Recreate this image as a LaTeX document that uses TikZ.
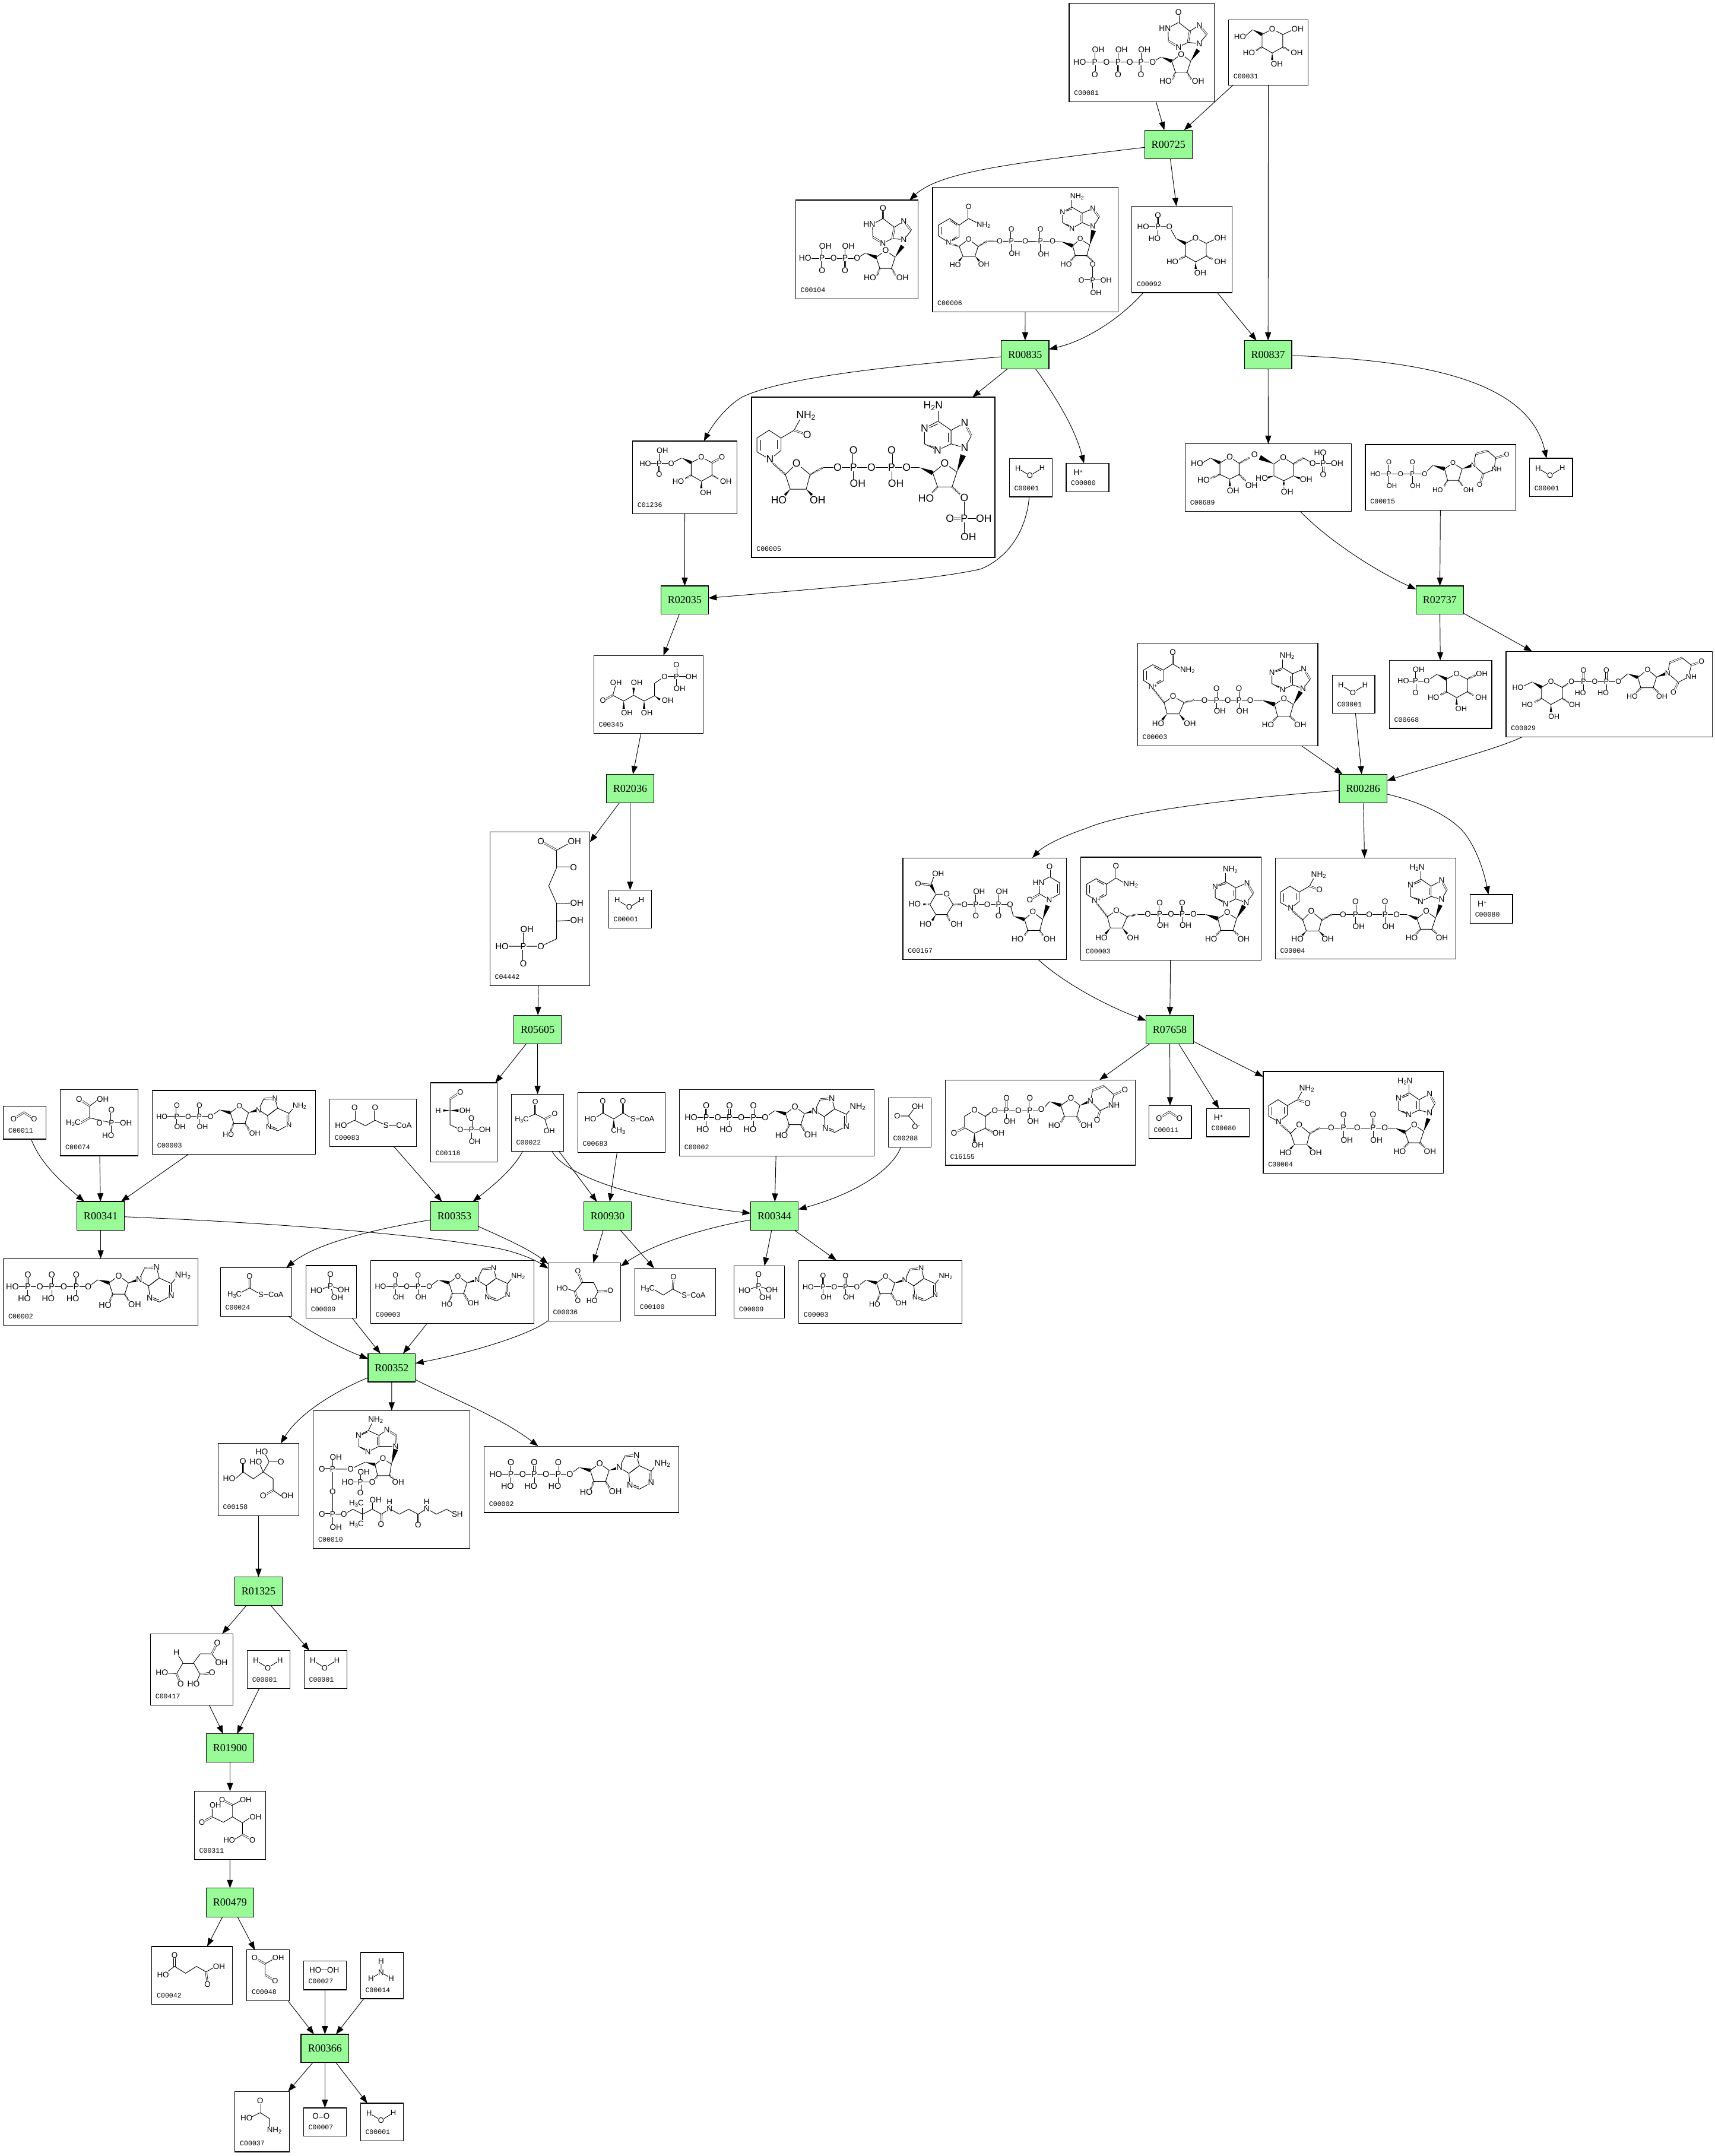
\documentclass[tikz,border=0pt]{standalone}
\usepackage{fontspec}
\setmainfont{Liberation Sans}
\newfontfamily\labf{Liberation Mono}
\newfontfamily\rxf{Liberation Serif}
\usetikzlibrary{calc,arrows.meta}
\definecolor{rxgreen}{HTML}{98FB98}
\newcounter{atc}
\newif\ifbondmode
\tikzset{
 atm/.style={fill=white,inner sep=.1pt,font=\atf},
 bnd/.style={line width=.4pt,line join=round},
 dbl/.style={line width=.3pt,double,double distance=.75pt},
 hsh/.style={line width=1.3pt,dash pattern=on .35pt off .55pt},
 cb/.style={draw=black,fill=white,line width=.55pt,inner sep=0pt,outer sep=0pt},
 rx/.style={draw=black,fill=rxgreen,line width=.55pt,inner sep=0pt,outer sep=0pt,font=\rxf\fontsize{7.8}{8}\selectfont},
 lab/.style={anchor=west,inner sep=0pt,font=\labf\fontsize{5}{5}\selectfont},
 lnk/.style={line width=.4pt,-{Triangle[length=6pt,width=4.4pt]}}
}
\newcommand\subs[1]{\raisebox{-.3ex}{\scalebox{.7}{#1}}}
\newcommand\sups[1]{\raisebox{.45ex}{\scalebox{.65}{#1}}}
\newcommand\mol[6]{\begin{scope}[shift={(#1,#2)},x=#3pt,y=-#4pt]\def\atf{\fontsize{#5}{#5}\selectfont}\pgfmathsetmacro\xs{.39*#5}\bondmodetrue #6\bondmodefalse #6\end{scope}}
\def\B#1{\ifbondmode\draw[bnd] #1;\fi}
\def\D#1{\ifbondmode\draw[dbl] #1;\fi}
\def\W(#1,#2)(#3,#4){\ifbondmode\fill (#1,#2) -- ($(#3,#4)!0.16!90:(#1,#2)$) -- ($(#3,#4)!0.16!-90:(#1,#2)$) -- cycle;\fi}
\def\Hs(#1,#2)(#3,#4){\ifbondmode\draw[hsh] (#1,#2) -- (#3,#4);\fi}
\def\At(#1,#2)#3{\ifbondmode\else\stepcounter{atc}\node[atm] (atom\arabic{atc}) at (#1,#2) {#3};\fi}
\def\AL(#1,#2)#3{\ifbondmode\else\stepcounter{atc}\node[atm,anchor=west,xshift=-\xs pt] (atom\arabic{atc}) at (#1,#2) {#3};\fi}
\def\AR(#1,#2)#3{\ifbondmode\else\stepcounter{atc}\node[atm,anchor=east,xshift=\xs pt] (atom\arabic{atc}) at (#1,#2) {#3};\fi}
\def\PO(#1,#2,#3){\D{(#1,#2)--(#1,#3)}\At(#1,#2){P}\At(#1,#3){O}}
\def\PP(#1,#2,#3,#4)#5#6{\PO(#1,#2,#3)\B{(#1,#2)--(#1,#4)}#5(#1,#4){#6}}
\newcommand\Cb[6]{\pgfmathsetmacro\bxw{#4-#2}\pgfmathsetmacro\bxh{#5-#3}%
 \node[cb,minimum width=\bxw pt,minimum height=\bxh pt] (#1) at ({(#2+#4)/2},{(#3+#5)/2}) {};%
 \node[lab] (#1-l) at ({#2+3.4},{#5-6.3}) {#6};}
\newcommand\Rx[5]{\pgfmathsetmacro\bxw{#4-#2}\pgfmathsetmacro\bxh{#5-#3}%
 \node[rx,minimum width=\bxw pt,minimum height=\bxh pt] (#1) at ({(#2+#4)/2},{(#3+#5)/2}) {#1};}
% ---------- templates
\def\RibRing{\B{(0,0) -- (-.81,.59) -- (-.5,1.54) -- (.5,1.54) -- (.81,.59) -- cycle}\At(0,0){O}}
\def\AdeR{\W(.81,.59)(1.7,.34)\B{(1.7,.34)--(2.16,-.63)}\D{(2.16,-.63)--(3.16,-.71)}\B{(3.16,-.71)--(3.39,.19)--(2.5,.85)--(1.7,.34)}\B{(3.39,.19)--(4.4,.65)--(4.95,0)}\B{(2.5,.85)--(2.6,1.86)--(3.4,2.2)--(4.4,1.66)--(4.4,.65)}\B{(3.2,.32)--(2.65,.75)}\B{(4.25,.8)--(4.25,1.5)}\B{(2.85,1.82)--(3.35,2.02)}%
 \At(1.7,.34){N}\At(3.16,-.71){N}\At(2.6,1.86){N}\At(4.4,1.66){N}\AL(4.95,0){NH\subs{2}}}
\def\NTail{\RibRing\W(-1.75,.34)(-.81,.59)\Hs(-.5,1.54)(-.8,2.25)\Hs(.5,1.54)(.9,2.2)\At(-2.55,.93){O}\B{(-1.75,.34)--(-2.55,.93)}}
\def\ATP{\NTail\AdeR\AR(-.85,2.46){HO}\AL(1.05,2.4){OH}\B{(-2.55,.93)--(-8.5,.93)}%
 \PP(-3.55,.93,-.07,1.93)\AR{HO}\At(-4.6,.93){O}\PP(-5.6,.93,-.07,1.93)\AR{HO}\At(-6.6,.93){O}\PP(-7.6,.93,-.07,1.93)\AR{HO}\AR(-8.6,.93){HO}}
\def\ADP{\NTail\AdeR\AR(-.7,2.5){HO}\AL(1.1,2.4){OH}\B{(-2.55,.93)--(-6.5,.93)}%
 \PP(-3.55,.93,-.07,1.86)\AL{OH}\At(-4.55,.93){O}\PP(-5.55,.93,-.07,1.86)\AL{OH}\AR(-6.6,.93){HO}}
\def\Hypo{\RibRing\W(-1.74,.23)(-.81,.59)\B{(-1.74,.23)--(-2.45,.68)}\Hs(-.5,1.54)(-.75,2.15)\Hs(.5,1.54)(.85,2.15)\AR(-1.05,2.32){HO}\AL(1.15,2.32){OH}\At(-2.45,.68){O}%
 \W(.81,.59)(1.45,-.38)\B{(1.55,-.91)--(2.19,-1.7)}\D{(2.19,-1.7)--(1.55,-2.5)}\B{(1.55,-2.5)--(.74,-1.98)--(-.23,-2.73)--(-1.13,-2.23)--(-1.1,-1.14)}\D{(-1.1,-1.14)--(-.23,-.61)}\B{(-.23,-.61)--(.58,-1.02)--(1.55,-.91)}\D{(.74,-1.98)--(.58,-1.02)}\D{(-.23,-2.73)--(-.23,-3.6)}%
 \At(1.55,-.91){N}\At(1.55,-2.5){N}\At(-.23,-.61){N}\AR(-1.13,-2.23){HN}\At(-.23,-3.6){O}}
\def\Glu{\B{(0,0)--(7.7,3.9)--(7.7,13.1)--(0,17.4)--(-7.4,13.1)--(-7.4,3.9)--cycle}\At(0,0){O}\W(-14.3,.4)(-7.4,3.9)\Hs(7.7,13.1)(12.5,15.6)\AL(15.5,17.4){OH}\W(0,17.4)(0,22.5)\AL(1,25.6){OH}\Hs(-7.4,13.1)(-12,15.6)\AR(-14.5,17.4){HO}}
\def\Water{\B{(6.3,7.2)--(15,12.6)--(23.9,7)}\At(6.3,7.2){H}\At(15,12.6){O}\At(23.9,7){H}}
\def\Proton{\At(8.8,6.6){H\sups{+}}}
\def\COtwo{\D{(7.4,9.4)--(14.9,4.6)}\D{(14.9,4.6)--(22.3,9.4)}\At(7.4,9.4){O}\At(22.3,9.4){O}}
\def\Phosphate{\D{(903,1040)--(903,980)}\B{(860,1062)--(903,1040)--(945,1060)}\B{(903,1040)--(915,1095)}\At(903,1040){P}\At(903,980){O}\AR(866,1062){HO}\AL(938,1060){OH}\AL(915,1098){OH}}
\def\NADc{%
 \Hs(67,265)(97,322)\B{(121,297)--(97,322)--(105,368)--(137,368)--(150,322)--cycle}\At(121,297){O}%
 \W(105,368)(92,392)\W(137,368)(150,392)\AR(90,408){HO}\AL(157,408){OH}%
 \Hs(150,322)(178,312)\B{(178,312)--(358,312)}\At(205,312){O}\PP(237,312,265,357)\AL{OH}\At(267,312){O}\PP(297,312,265,357)\AL{OH}\At(327,312){O}%
 \W(358,312)(392,330)\B{(417,305)--(392,330)--(400,378)--(433,378)--(442,330)--cycle}\At(417,305){O}\W(442,330)(462,278)%
 \Hs(400,378)(388,397)\Hs(433,378)(447,397)\AR(383,413){HO}\AL(452,413){OH}%
 \B{(468,265)--(487,228)}\D{(487,228)--(470,185)}\B{(470,185)--(440,205)--(440,250)--(468,265)}\B{(440,250)--(413,270)--(385,245)--(385,200)--(413,180)--(440,205)}\B{(413,180)--(413,145)}\B{(434,215)--(434,240)}\B{(395,197)--(413,188)}\B{(395,252)--(411,262)}%
 \At(468,265){N}\At(470,185){N}\At(413,270){N}\At(385,200){N}\AL(413,132){NH\subs{2}}%
 \B{(67,257)--(42,232)--(42,190)--(67,168)--(95,190)--(95,233)--cycle}\B{(50,228)--(50,194)}\B{(70,177)--(88,192)}\B{(76,243)--(88,231)}\B{(95,190)--(120,165)--(147,190)}\D{(120,165)--(120,117)}%
 \At(67,257){N\sups{+}}\At(120,117){O}\AL(147,190){NH\subs{2}}}
\def\NADHr{\Hs(812,1243)(825,1262)\AL(830,1278){OH}}
\def\NADHc{%
 \B{(435,1158)--(458,1130)--(458,1092)--(433,1068)--(408,1092)--(408,1135)--cycle}\B{(450,1125)--(450,1097)}\B{(416,1097)--(416,1131)}\B{(458,1092)--(485,1068)--(497,1035)}\D{(485,1068)--(512,1082)}%
 \At(435,1158){N}\At(512,1082){O}\AL(497,1022){NH\subs{2}}\Hs(441,1170)(467,1205)%
 \B{(490,1170)--(467,1205)--(477,1250)--(510,1250)--(518,1205)--cycle}\At(490,1170){O}\W(477,1250)(466,1268)\W(510,1250)(522,1268)\AR(462,1283){HO}\AL(525,1283){OH}%
 \Hs(518,1205)(545,1183)\B{(545,1183)--(745,1183)}\At(575,1183){O}\PP(608,1183,1130,1233)\AL{OH}\At(645,1183){O}\PP(687,1183,1130,1233)\AL{OH}\At(718,1183){O}%
 \W(745,1183)(772,1200)\B{(797,1170)--(772,1200)--(782,1243)--(812,1243)--(822,1197)--cycle}\At(797,1170){O}\W(822,1197)(835,1145)\Hs(782,1243)(770,1262)\AR(767,1278){HO}\NADHr%
 \B{(838,1122)--(852,1085)}\D{(852,1085)--(838,1045)}\B{(838,1045)--(810,1068)--(810,1110)--(838,1122)}\B{(810,1110)--(782,1130)--(755,1110)--(755,1062)--(783,1040)--(810,1068)}\B{(783,1040)--(783,1005)}\B{(804,1075)--(804,1105)}\B{(765,1060)--(783,1048)}\B{(765,1115)--(780,1123)}%
 \At(838,1122){N}\At(838,1045){N}\At(782,1130){N}\At(755,1062){N}\AR(785,993){H\subs{2}N}}
\begin{document}
\begin{tikzpicture}[x=1pt,y=-1pt]
\useasboundingbox (0,0) rectangle (1248,1569);
\fill[white] (0,0) rectangle (1248,1569);
% ---------- reactions
\Rx{R00725}{833}{94.7}{867.6}{115.5}
\Rx{R00835}{728.7}{247.8}{763.3}{268.4}
\Rx{R00837}{905.6}{247.8}{940}{268.4}
\Rx{R02035}{481}{426.4}{515.5}{447}
\Rx{R02737}{1030.5}{426.4}{1065}{447}
\Rx{R02036}{441.2}{563.4}{475.9}{584.3}
\Rx{R00286}{974.6}{563.5}{1009.3}{584.3}
\Rx{R05605}{374}{738.8}{408.5}{759.5}
\Rx{R07658}{834}{738.8}{868.5}{759.5}
\Rx{R00341}{56}{874.4}{90.5}{895.2}
\Rx{R00353}{313.4}{874.4}{348}{895.2}
\Rx{R00930}{424.9}{874.5}{459.4}{895.2}
\Rx{R00344}{546.3}{874.5}{580.9}{895.2}
\Rx{R00352}{267.8}{985}{302.3}{1005.7}
\Rx{R01325}{170.8}{1147.6}{205.5}{1168.4}
\Rx{R01900}{150}{1261.7}{184.8}{1282.3}
\Rx{R00479}{150}{1374}{184.7}{1395}
\Rx{R00366}{219}{1480.4}{253.9}{1501}
% ---------- compound boxes
\Cb{C00081}{778}{2.3}{883.6}{74}{C00081}
\Cb{C00031}{894}{14.5}{952}{62}{C00031}
\Cb{C00104}{579}{145.6}{668}{217.5}{C00104}
\Cb{C00006}{678.6}{136.3}{813.6}{227}{C00006}
\Cb{C00092}{823.7}{150}{896.5}{213}{C00092}
\Cb{C01236}{460.3}{321}{536.4}{373.8}{C01236}
\Cb{C00005}{546.9}{289}{724}{405.6}{C00005}
\Cb{C00001a}{734.5}{333.6}{765.8}{361.6}{C00001}
\Cb{C00080a}{775.8}{337.2}{807}{358}{C00080}
\Cb{C00689}{862.5}{323}{983.4}{372}{C00689}
\Cb{C00015}{993.6}{323.5}{1103}{371.2}{C00015}
\Cb{C00001c}{1113}{333.5}{1144.3}{361.5}{C00001}
\Cb{C00345}{432.1}{477}{511.8}{533.6}{C00345}
\Cb{C00003a}{827.8}{468}{959}{542.8}{C00003}
\Cb{C00001b}{969.5}{491.4}{1000.5}{519}{C00001}
\Cb{C00668}{1011}{480.6}{1085.6}{530}{C00668}
\Cb{C00029}{1096}{474}{1246}{536.3}{C00029}
\Cb{C04442}{356.5}{605.4}{429.3}{717.3}{C04442}
\Cb{C00001d}{442.9}{647.7}{474.2}{675.4}{C00001}
\Cb{C00167}{657.1}{624.3}{776}{698.2}{C00167}
\Cb{C00003b}{786.5}{623.8}{917.7}{698.7}{C00003}
\Cb{C00004a}{928}{624.3}{1059.4}{698}{C00004}
\Cb{C00080b}{1069.8}{651}{1100.7}{672}{C00080}
\Cb{C16155}{687.8}{785.9}{826.2}{848}{C16155}
\Cb{C00011a}{836}{804.5}{867}{828.5}{C00011}
\Cb{C00080c}{877.9}{806.6}{909.1}{827.3}{C00080}
\Cb{C00004b}{919.3}{779.7}{1050.5}{853.7}{C00004}
\Cb{C00011b}{2.5}{804.9}{33.5}{829}{C00011}
\Cb{C00074}{44}{792.8}{100.4}{841.1}{C00074}
\Cb{C00003c}{110.8}{793.6}{229.6}{840}{C00003}
\Cb{C00083}{240}{799.7}{303}{834.4}{C00083}
\Cb{C00118}{313.4}{788}{361.8}{845.5}{C00118}
\Cb{C00022}{372.1}{796.3}{410.2}{837.8}{C00022}
\Cb{C00683}{420.5}{795}{484.1}{838.8}{C00683}
\Cb{C00002c}{494.4}{792.8}{636.2}{841.2}{C00002}
\Cb{C00288}{646.4}{798.9}{677.6}{834.9}{C00288}
\Cb{C00002a}{2.5}{915.9}{144}{964.3}{C00002}
\Cb{C00024}{160.4}{922.4}{212.3}{957.8}{C00024}
\Cb{C00009a}{222.7}{921}{259.4}{959.1}{C00009}
\Cb{C00003d}{269.8}{917.2}{388.6}{963}{C00003}
\Cb{C00036}{398.9}{919}{451.7}{961.3}{C00036}
\Cb{C00100}{462}{922.9}{520.8}{957.6}{C00100}
\Cb{C00009b}{534.2}{921.1}{570.8}{959.1}{C00009}
\Cb{C00003e}{581.3}{917.2}{700.1}{963}{C00003}
\Cb{C00158}{158.7}{1050.4}{217.6}{1103.1}{C00158}
\Cb{C00010}{228}{1026.5}{342}{1126.7}{C00010}
\Cb{C00002b}{352.3}{1052.4}{494}{1100.7}{C00002}
\Cb{C00417}{109.5}{1189}{169.7}{1240.8}{C00417}
\Cb{C00001e}{179.9}{1201.1}{211.1}{1228.7}{C00001}
\Cb{C00001f}{221.3}{1201.1}{252.6}{1228.7}{C00001}
\Cb{C00311}{141.4}{1303.5}{193.4}{1353.3}{C00311}
\Cb{C00042}{110.5}{1416.5}{169.2}{1458.7}{C00042}
\Cb{C00048}{179.6}{1419}{210.7}{1456}{C00048}
\Cb{C00027}{220.9}{1427}{252}{1448}{C00027}
\Cb{C00014}{262.3}{1420.8}{293.6}{1454.5}{C00014}
\Cb{C00037}{171}{1522}{210.7}{1566}{C00037}
\Cb{C00007}{220.9}{1534}{252}{1554.6}{C00007}
\Cb{C00001g}{262.3}{1530.5}{293.6}{1558}{C00001}
% ---------- molecules
\mol{859.6}{39.5}{8.5}{8.5}{6}{\Hypo\B{(-2.45,.68)--(-8.4,.68)}\PP(-3.45,.68,1.72,-.37)\AL{OH}\At(-4.4,.68){O}\PP(-5.4,.68,1.72,-.37)\AL{OH}\At(-6.4,.68){O}\PP(-7.4,.68,1.72,-.37)\AL{OH}\AR(-8.4,.68){HO}}
\mol{644.5}{182.2}{8.5}{8.5}{6}{\Hypo\B{(-2.45,.68)--(-6.6,.68)}\PP(-3.48,.68,1.72,-.37)\AL{OH}\At(-4.45,.68){O}\PP(-5.45,.68,1.72,-.37)\AL{OH}\AR(-6.6,.68){HO}}
\mol{925.8}{21.2}{1}{1}{5.8}{\Glu\B{(7.7,3.9)--(14,1)}\AL(16,0){OH}\B{(-14.3,.4)--(-19,4.5)}\AR(-21,5.4){HO}}
\mol{870.1}{173.2}{1}{1}{5.8}{\Glu\B{(7.7,3.9)--(14,1)}\AL(15.5,0){OH}\B{(-14.3,.4)--(-19.2,-8.3)--(-35.8,-8.3)}\At(-19.2,-8.3){O}\PP(-27.5,-8.3,-16.6,.3)\AR{HO}\AR(-35.8,-8.3){HO}}
\mol{1060}{490.3}{1}{1}{5.6}{\Glu\Hs(7.7,3.9)(14,1)\AL(16,0){OH}\B{(-14.3,.4)--(-21.8,5.4)--(-36,5.4)}\At(-21.8,5.4){O}\PP(-30,5.4,13.8,-3.2)\AL{OH}\AR(-36.5,5.4){HO}}
\mol{510.4}{332.8}{1}{1}{5.6}{\Glu\D{(7.7,3.9)--(15,0)}\At(15,0){O}\B{(-14.2,.4)--(-22,4.4)--(-39,4.4)}\At(-22,4.4){O}\PP(-30.7,4.4,12.3,-4.7)\AL{OH}\AR(-38.5,4.4){HO}}
% NADP+ C00006
\mol{561.6}{0}{.2755}{.1928}{5.4}{%
 \B{(467,915)--(440,890)--(440,850)--(470,825)--(495,850)--(495,895)--cycle}\B{(447,885)--(447,855)}\B{(472,833)--(489,850)}\B{(477,905)--(488,893)}\B{(495,850)--(520,825)--(555,850)}\D{(520,825)--(520,780)}\At(467,915){N}\At(520,780){O}\AL(548,850){NH\subs{2}}%
 \Hs(475,922)(495,930)\B{(520,903)--(495,930)--(505,967)--(537,967)--(545,930)--cycle}\At(520,903){O}\W(505,967)(495,985)\W(537,967)(548,985)\AR(493,1000){HO}\AL(552,998){OH}%
 \Hs(545,930)(570,910)\B{(570,910)--(765,912)}\At(602,910){O}\PP(633,910,865,958)\AL{OH}\At(670,910){O}\PP(710,910,865,960)\AL{OH}\At(742,910){O}%
 \W(765,912)(795,928)\B{(815,902)--(795,928)--(802,965)--(832,965)--(840,925)--cycle}\At(815,902){O}\W(840,925)(850,870)\Hs(802,965)(790,983)\Hs(832,965)(848,985)\AR(786,998){HO}%
 \B{(848,998)--(848,1090)}\At(848,998){O}\D{(848,1057)--(818,1057)}\B{(848,1057)--(872,1057)}\At(848,1057){P}\At(818,1057){O}\AL(875,1057){OH}\AL(848,1105){OH}%
 \B{(848,858)--(865,820)}\D{(865,820)--(848,787)}\B{(848,787)--(820,805)--(820,840)--(848,858)}\B{(820,840)--(793,862)--(768,840)--(768,800)--(793,782)--(820,805)}\B{(793,782)--(793,752)}\B{(814,810)--(814,835)}\B{(777,797)--(793,789)}\B{(777,846)--(790,854)}%
 \At(848,855){N}\At(848,787){N}\At(793,862){N}\At(768,800){N}\AL(795,742){NH\subs{2}}}
{\def\NADHr{}\mol{407.4}{61.6}{.3515}{.2355}{7.6}{\NADHc}}
\mol{546.9}{289}{1}{1}{7.6}{\B{(154.8,73.3)--(154.8,101)}\Hs(146,65.3)(152,71)\At(154.8,73.3){O}\D{(154.8,88.3)--(144.4,88.3)}\B{(154.8,88.3)--(165,88.3)}\At(154.8,88.3){P}\At(144.4,88.3){O}\AL(166,88.3){OH}\AL(154.8,101.5){OH}}
\mol{820.7}{453.6}{.2725}{.1791}{5.8}{\NADc}
\mol{779.4}{609.4}{.2725}{.1791}{5.8}{\NADc}
\mol{820.7}{453.6}{.2725}{.1791}{5.9}{\NADHc}
\mol{812}{609}{.2725}{.1791}{5.9}{\NADHc}
% water, proton, CO2
\mol{734.5}{333.6}{1}{1}{5.6}{\Water}
\mol{969.5}{491.4}{1}{1}{5.6}{\Water}
\mol{1113}{333.5}{1}{1}{5.6}{\Water}
\mol{442.9}{647.7}{1}{1}{5.6}{\Water}
\mol{179.9}{1201.1}{1}{1}{5.6}{\Water}
\mol{221.3}{1201.1}{1}{1}{5.6}{\Water}
\mol{262.3}{1530.5}{1}{1}{5.6}{\Water}
\mol{775.8}{337.2}{1}{1}{6}{\Proton}
\mol{1069.8}{651}{1}{1}{6}{\Proton}
\mol{877.9}{806.6}{1}{1}{6}{\Proton}
\mol{836}{804.5}{1}{1}{5.6}{\COtwo}
\mol{2.5}{804.9}{1}{1}{5.6}{\COtwo}
% C00689
\mol{855.3}{315.3}{.1708}{.144}{6}{%
 \B{(232,120)--(272,152)--(272,208)--(232,232)--(190,208)--(190,150)--cycle}\W(150,125)(190,150)\B{(150,125)--(112,152)}\AR(107,152){HO}\At(232,120){O}%
 \Hs(272,152)(318,122)\At(337,107){O}\Hs(272,208)(300,242)\AL(310,262){OH}\W(232,232)(232,268)\AL(232,292){OH}\Hs(190,208)(150,228)\AR(135,237){HO}%
 \W(420,155)(360,122)\B{(460,122)--(503,155)--(503,215)--(462,240)--(420,215)--(420,155)--cycle}\At(460,122){O}\Hs(503,155)(545,125)\B{(545,125)--(585,152)--(690,152)}\At(585,152){O}\D{(630,152)--(630,210)}\B{(630,152)--(630,100)}\At(630,152){P}\At(630,210){O}\AR(632,97){HO}\AL(675,152){OH}%
 \W(420,215)(390,225)\AR(383,227){HO}\W(503,215)(530,228)\AL(543,232){OH}\Hs(462,240)(462,272)\AL(462,295){OH}}
% C00015
\mol{855.3}{315.3}{.1708}{.144}{5}{%
 \B{(1183,150)--(1147,180)--(1160,238)--(1207,238)--(1222,180)--cycle}\At(1183,150){O}\W(1097,162)(1147,180)\B{(1097,162)--(1062,205)--(865,205)}\At(1062,205){O}%
 \PP(1010,205,147,265)\AL{OH}\At(960,205){O}\PP(910,205,147,265)\AL{OH}\AR(865,205){HO}\Hs(1160,238)(1145,268)\Hs(1207,238)(1225,268)\AR(1130,288){HO}\AL(1237,288){OH}%
 \W(1222,180)(1270,160)\B{(1270,160)--(1280,105)}\D{(1280,105)--(1330,88)}\B{(1330,88)--(1365,125)--(1358,183)--(1312,205)--(1270,160)}\D{(1365,125)--(1412,107)}\D{(1312,205)--(1297,260)}%
 \At(1270,160){N}\At(1412,107){O}\AL(1358,183){NH}\At(1297,260){O}}
% C00029
\mol{820.7}{453.6}{.2725}{.1791}{5.4}{%
 \B{(1130,237)--(1160,260)--(1160,305)--(1130,330)--(1105,305)--(1105,260)--cycle}\At(1130,237){O}\W(1080,238)(1105,260)\B{(1080,238)--(1050,260)}\AR(1050,260){HO}\Hs(1160,305)(1178,322)\AL(1185,330){OH}\W(1130,330)(1130,360)\AL(1130,378){OH}\Hs(1105,305)(1085,322)\AR(1075,330){HO}%
 \Hs(1160,260)(1185,237)\B{(1185,237)--(1310,237)--(1335,205)}\At(1185,237){O}\PP(1217,237,190,283)\AR{HO}\At(1247,237){O}\PP(1278,237,190,283)\AR{HO}\At(1310,237){O}%
 \W(1335,205)(1362,220)\B{(1388,188)--(1362,220)--(1370,262)--(1403,262)--(1412,218)--cycle}\At(1388,188){O}\Hs(1370,262)(1358,282)\Hs(1403,262)(1418,282)\AR(1355,298){HO}\AL(1418,298){OH}%
 \W(1412,218)(1442,202)\B{(1442,202)--(1447,160)}\D{(1447,160)--(1480,140)}\B{(1480,140)--(1505,170)--(1497,218)--(1470,240)--(1442,202)}\D{(1505,170)--(1532,155)}\D{(1470,240)--(1457,280)}%
 \At(1442,202){N}\At(1532,155){O}\AL(1497,218){NH}\At(1457,280){O}}
% C00167
\mol{647.9}{617.7}{.144}{.1543}{5.8}{%
 \B{(285,213)--(317,263)--(285,310)--(230,310)--(200,263)--(230,215)--cycle}\At(285,213){O}\W(230,215)(205,170)\D{(205,170)--(140,165)}\B{(205,170)--(225,118)}\At(140,165){O}\AL(225,118){OH}%
 \Hs(200,263)(165,263)\AR(140,260){HO}\W(230,310)(212,338)\AR(195,355){HO}\Hs(285,310)(300,338)\AL(318,355){OH}\Hs(317,263)(358,262)%
 \B{(375,262)--(605,262)--(622,318)}\At(375,262){O}\PP(432,262,317,202)\AL{OH}\At(490,262){O}\PP(547,262,317,202)\AL{OH}\At(605,262){O}%
 \W(622,318)(678,333)\B{(720,298)--(678,333)--(695,385)--(755,385)--(770,333)--cycle}\At(720,298){O}\Hs(695,385)(678,410)\Hs(755,385)(772,410)\AR(660,425){HO}\AL(788,425){OH}\W(770,333)(795,268)%
 \B{(803,240)--(755,213)--(752,160)--(805,132)--(855,160)--(855,213)--(803,240)}\D{(755,213)--(705,240)}\D{(805,132)--(805,85)}\B{(845,165)--(845,208)}%
 \At(803,240){N}\At(705,240){O}\AR(765,160){HN}\At(805,85){O}}
% C16155
\mol{647.9}{617.7}{.144}{.1543}{5.8}{%
 \B{(425,1233)--(480,1262)--(480,1318)--(425,1342)--(375,1315)--(375,1262)--cycle}\At(425,1233){O}\D{(375,1315)--(322,1340)}\At(322,1340){O}\W(425,1342)(425,1380)\AL(425,1397){OH}\Hs(480,1318)(515,1335)\AL(530,1340){OH}\Hs(480,1262)(512,1240)%
 \B{(528,1235)--(763,1235)--(805,1192)}\At(528,1235){O}\PP(587,1235,1175,1285)\AL{OH}\At(647,1235){O}\PP(705,1235,1175,1285)\AL{OH}\At(763,1230){O}%
 \W(805,1192)(862,1210)\B{(913,1177)--(862,1210)--(880,1263)--(942,1263)--(958,1210)--cycle}\At(913,1177){O}\Hs(880,1263)(862,1290)\Hs(942,1263)(960,1290)\AR(845,1305){HO}\AL(975,1305){OH}%
 \W(958,1210)(1012,1190)\B{(1012,1190)--(1022,1140)}\D{(1022,1140)--(1080,1118)}\B{(1080,1118)--(1130,1160)--(1115,1210)--(1060,1235)--(1012,1190)}\D{(1130,1160)--(1185,1137)}\D{(1060,1235)--(1045,1280)}%
 \At(1012,1190){N}\At(1185,1137){O}\AL(1115,1210){NH}\At(1045,1280){O}}
% C00345, C04442
\mol{345.6}{470.8}{.144}{.1653}{5.6}{%
 \D{(647,237)--(697,213)}\B{(712,165)--(697,213)--(752,238)--(802,213)--(855,238)--(908,215)--(908,160)--(958,130)--(1070,130)}\At(647,237){O}\AL(697,157){OH}\W(752,238)(752,272)\AL(752,290){OH}\W(802,213)(802,180)\AL(802,157){OH}\W(855,238)(855,272)\AL(853,290){OH}\W(908,215)(935,232)\AL(958,235){OH}\At(958,130){O}\PP(1018,130,78,183)\AL{OH}\AL(1078,130){OH}}
\mol{345.6}{470.8}{.144}{.1653}{6.4}{%
 \D{(333,855)--(413,895)}\B{(413,895)--(485,860)}\B{(413,895)--(413,972)--(373,1052)--(413,1130)--(413,1285)--(333,1318)--(155,1318)}\B{(413,1130)--(497,1127)}\B{(413,1207)--(497,1203)}\D{(413,972)--(498,972)}\At(333,855){O}\AL(485,855){OH}\At(498,972){O}\AL(497,1127){OH}\AL(497,1203){OH}\At(333,1318){O}\PP(245,1318,1395,1242)\AL{OH}\AR(155,1318){HO}}
% left row
\mol{0}{777.5}{.2481}{.144}{5.8}{% C00074
 \D{(263,190)--(232,155)}\B{(263,190)--(290,155)}\B{(263,190)--(263,250)--(327,275)}\D{(263,250)--(232,280)}\B{(327,275)--(357,275)}\At(232,155){O}\AL(292,155){OH}\At(215,275){H\subs{2}C}\At(292,275){O}\PP(327,275,210,340)\AR{HO}\AL(360,275){OH}}
\mol{174.2}{804.9}{8.2}{8.2}{5.4}{\ADP}
\mol{333.3}{928.7}{8.2}{8.2}{5.4}{\ADP}
\mol{644.5}{928.8}{8.2}{8.2}{5.4}{\ADP}
\mol{86.4}{928.4}{8.7}{8.7}{6.2}{\ATP}
\mol{436.4}{1065}{8.5}{8.5}{6.2}{\ATP}
\mol{578.5}{805.4}{8.5}{8.5}{6.2}{\ATP}
\mol{0}{777.5}{.2481}{.144}{5.8}{% C00083
 \D{(1040,198)--(1040,262)}\D{(1100,198)--(1100,262)}\B{(1010,288)--(1040,262)--(1072,290)--(1100,262)--(1132,288)--(1165,288)}\At(1040,198){O}\At(1100,198){O}\AR(1010,288){HO}\At(1132,288){S}\AL(1170,288){CoA}}
\mol{0}{777.5}{.2481}{.144}{5.6}{% C00118
 \D{(1350,120)--(1320,155)}\B{(1320,155)--(1320,285)--(1350,310)--(1413,310)}\W(1320,213)(1300,213)\W(1320,213)(1345,213)\At(1350,120){O}\At(1285,213){H}\AL(1355,213){OH}\At(1350,310){O}\PP(1383,310,252,370)\AL{OH}\AL(1413,310){OH}}
\mol{0}{777.5}{.2481}{.144}{5.6}{% C00024
 \D{(732,1052)--(732,1110)}\B{(695,1143)--(732,1110)--(765,1143)--(790,1143)}\At(732,1052){O}\At(688,1143){H\subs{3}C}\At(765,1143){S}\AL(795,1143){CoA}}
\mol{362.9}{786.2}{.2094}{.144}{5.4}{% C00022
 \D{(127,110)--(127,170)}\B{(90,195)--(127,170)--(160,195)--(170,240)}\D{(160,195)--(195,170)}\At(127,110){O}\At(80,200){H\subs{3}C}\At(195,170){O}\AL(165,257){OH}}
\mol{362.9}{786.2}{.2094}{.144}{5.6}{% C00683
 \D{(362,105)--(362,165)}\D{(432,105)--(432,165)}\B{(330,195)--(362,165)--(400,195)--(432,165)--(467,195)--(490,195)}\W(400,195)(400,235)\At(362,105){O}\At(432,105){O}\AR(330,195){HO}\At(467,195){S}\AL(498,195){CoA}\At(415,255){CH\subs{3}}}
\mol{362.9}{786.2}{.2094}{.144}{5.6}{% C00288
 \D{(1385,180)--(1425,180)}\B{(1445,140)--(1425,180)--(1450,225)}\At(1385,180){O}\AL(1445,132){OH}\At(1450,233){O\sups{-}}}
\mol{362.9}{786.2}{.2094}{.144}{5.4}{% C00036
 \D{(275,965)--(290,1022)}\B{(290,1022)--(330,1022)--(345,1067)--(330,1110)}\D{(345,1067)--(388,1062)}\B{(290,1022)--(265,1067)--(232,1050)}\D{(265,1067)--(275,1115)}\At(275,965){O}\At(388,1062){O}\AR(232,1050){HO}\At(275,1115){O}\AR(335,1115){HO}}
\mol{362.9}{786.2}{.2094}{.144}{5.6}{% C00100
 \D{(607,993)--(605,1055)}\B{(535,1053)--(572,1085)--(605,1055)--(645,1085)--(670,1085)}\At(607,993){O}\At(518,1053){H\subs{3}C}\At(645,1085){S}\AL(676,1085){CoA}}
\mol{362.9}{786.2}{.2094}{.144}{5.8}{\Phosphate}
\mol{51.4}{786.1}{.2094}{.144}{5.8}{\Phosphate}
% C00010
\mol{216}{1015.1}{.1928}{.144}{5.8}{%
 \B{(270,180)--(233,205)--(233,260)--(268,288)--(310,260)--(310,205)--cycle}\B{(310,205)--(340,177)--(375,205)--(373,260)--(310,260)}\B{(270,180)--(285,140)}\B{(303,212)--(303,252)}\B{(243,203)--(268,187)}\B{(243,265)--(266,280)}\D{(340,177)--(375,205)}%
 \At(233,205){N}\At(268,288){N}\At(340,177){N}\At(373,260){N}\AL(280,127){NH\subs{2}}%
 \W(357,350)(373,275)\B{(325,322)--(295,352)--(305,408)--(350,408)--(357,350)--cycle}\At(325,322){O}\Hs(350,408)(368,428)\AL(370,440){OH}\W(258,340)(295,352)\Hs(305,408)(292,430)\B{(258,340)--(203,375)--(135,375)}\At(203,375){O}%
 \At(285,440){O}\B{(285,440)--(205,440)}\PP(240,440,495,390)\AL{OH}\AR(205,440){HO}%
 \B{(135,375)--(135,603)}\D{(135,375)--(95,375)}\B{(135,375)--(135,325)}\At(135,375){P}\At(95,375){O}\AL(135,315){OH}\At(135,488){O}%
 \D{(135,603)--(95,603)}\B{(135,603)--(135,655)}\B{(135,603)--(178,603)--(212,578)--(248,603)--(285,578)--(320,603)--(350,575)--(387,603)--(422,578)--(458,603)--(490,575)--(527,603)--(565,578)--(598,603)}\B{(248,570)--(248,640)}\B{(285,578)--(285,545)}\D{(320,603)--(318,655)}\D{(458,603)--(458,657)}\B{(350,575)--(350,550)}\B{(490,575)--(490,550)}%
 \At(135,603){P}\At(95,603){O}\AL(135,668){OH}\At(178,603){O}\At(225,548){H\subs{3}C}\At(225,653){H\subs{3}C}\AL(285,530){OH}\At(318,655){O}\At(350,575){N}\At(350,540){H}\At(458,657){O}\At(490,575){N}\At(490,540){H}\AL(595,603){SH}}
% C00158 C00417 C00311
\mol{103.7}{1045.4}{.144}{.1984}{6}{%
 \B{(610,130)--(595,105)}\B{(610,130)--(640,93)--(620,65)}\D{(640,93)--(700,93)}\B{(610,130)--(560,155)--(508,130)--(470,155)}\D{(508,130)--(508,90)}\B{(610,130)--(660,155)--(660,197)--(700,218)}\D{(660,197)--(610,218)}\AR(590,93){HO}\AR(620,57){HO}\At(700,93){O}\At(508,90){O}\AR(455,155){HO}\At(610,218){O}\AL(715,218){OH}}
\mol{103.7}{1045.4}{.144}{.1984}{6}{%
 \B{(172,793)--(205,830)--(172,870)--(115,867)}\D{(205,830)--(258,830)}\B{(258,830)--(292,797)--(350,797)--(385,830)}\D{(350,797)--(378,758)}\B{(258,830)--(290,872)--(270,905)}\D{(290,872)--(352,867)}\D{(172,870)--(193,907)}\At(172,793){H}\AR(115,867){HO}\At(193,907){O}\At(378,758){O}\AL(382,830){OH}\At(352,867){O}\AR(275,907){HO}}
\mol{103.7}{1045.4}{.144}{.1984}{5.6}{%
 \D{(402,1332)--(455,1352)}\B{(455,1352)--(505,1332)}\B{(455,1352)--(455,1395)--(408,1415)--(352,1395)--(352,1365)}\D{(352,1395)--(300,1415)}\B{(455,1395)--(505,1417)--(550,1395)}\B{(505,1417)--(505,1460)--(460,1480)}\D{(505,1460)--(555,1480)}\At(402,1332){O}\AL(505,1332){OH}\AL(352,1352){OH}\At(300,1415){O}\AL(555,1395){OH}\AR(455,1480){HO}\At(555,1480){O}}
% bottom
\mol{0}{0}{1}{1}{5.8}{% C00042
 \D{(127,1431)--(127,1423)}\B{(119,1437)--(127,1431)--(135,1436)--(143,1431)--(150,1435)--(157,1431)}\D{(150,1435)--(151,1444)}\At(127,1423){O}\AR(121,1437){HO}\AL(157,1431){OH}\At(151,1444){O}}
\mol{151.2}{1339.1}{.144}{.1464}{5.6}{% C00048
 \D{(237,585)--(290,615)}\B{(290,615)--(335,590)}\B{(290,615)--(290,670)}\D{(290,670)--(340,700)}\At(237,585){O}\AL(340,585){OH}\At(340,700){O}}
\mol{151.2}{1339.1}{.144}{.1464}{5.8}{% C00027, C00014, C00037, C00007
 \B{(560,645)--(615,645)}\AR(560,645){HO}\AL(617,645){OH}%
 \B{(876,602)--(876,658)--(825,687)}\B{(876,658)--(927,687)}\At(876,602){H}\At(876,658){N}\At(825,687){H}\At(927,687){H}%
 \D{(265,1295)--(265,1355)}\B{(210,1382)--(265,1355)--(313,1385)--(313,1430)}\At(265,1295){O}\AR(212,1382){HO}\AL(313,1442){NH\subs{2}}%
 \D{(545,1373)--(600,1373)}\At(545,1373){O}\At(600,1373){O}}
% ---------- connectors
\draw[lnk] (C00081) -- (R00725);
\draw[lnk] (C00031) -- (R00725);
\draw[lnk] (C00031) -- (R00837);
\draw[lnk] (R00725) .. controls (745,118) and (685,124) .. (C00104);
\draw[lnk] (R00725) -- (C00092);
\draw[lnk] (C00006) -- (R00835);
\draw[lnk] (C00092) .. controls (815,232) and (790,248) .. (R00835);
\draw[lnk] (C00092) -- (R00837);
\draw[lnk] (R00835) .. controls (680,264) and (575,272) .. (540,289) .. controls (528,296) and (518,310) .. (C01236);
\draw[lnk] (R00835) -- (C00005);
\draw[lnk] (R00835) .. controls (765,284) and (782,310) .. (C00080a);
\draw[lnk] (R00837) -- (C00689);
\draw[lnk] (R00837) .. controls (1030,262) and (1112,275) .. (C00001c);
\draw[lnk] (C01236) -- (R02035);
\draw[lnk] (C00001a) .. controls (747,385) and (735,405) .. (714,414) .. controls (680,422) and (600,428) .. (R02035);
\draw[lnk] (R02035) -- (C00345);
\draw[lnk] (C00345) -- (R02036);
\draw[lnk] (R02036) -- (C04442);
\draw[lnk] (R02036) -- (C00001d);
\draw[lnk] (C04442) -- (R05605);
\draw[lnk] (R05605) -- (C00118);
\draw[lnk] (R05605) -- (C00022);
\draw[lnk] (C00074) -- (R00341);
\draw[lnk] (C00011b) .. controls (30,848) and (47,862) .. (R00341);
\draw[lnk] (C00003c) -- (R00341);
\draw[lnk] (C00083) -- (R00353);
\draw[lnk] (C00022) .. controls (374,850) and (360,862) .. (R00353);
\draw[lnk] (C00022) -- (R00930);
\draw[lnk] (C00022) .. controls (408,850) and (435,862) .. (467.6,869.7) .. controls (490,875) and (520,880) .. (R00344);
\draw[lnk] (C00683) -- (R00930);
\draw[lnk] (C00002c) -- (R00344);
\draw[lnk] (C00288) .. controls (650,850) and (625,868) .. (R00344);
\draw[lnk] (R00341) -- (C00002a);
\draw[lnk] (R00341) .. controls (180,889) and (300,897) .. (363,908.6) .. controls (375,911) and (388,916) .. (C00036);
\draw[lnk] (R00353) .. controls (365,900) and (385,909) .. (C00036);
\draw[lnk] (R00353) .. controls (270,895) and (230,905) .. (C00024);
\draw[lnk] (R00930) -- (C00036);
\draw[lnk] (R00930) -- (C00100);
\draw[lnk] (R00344) .. controls (515,893) and (475,905) .. (C00036);
\draw[lnk] (R00344) -- (C00009b);
\draw[lnk] (R00344) -- (C00003e);
\draw[lnk] (C00024) .. controls (222,967) and (245,980) .. (R00352);
\draw[lnk] (C00009a) -- (R00352);
\draw[lnk] (C00003d) -- (R00352);
\draw[lnk] (C00036) .. controls (385,972) and (340,985) .. (R00352);
\draw[lnk] (R00352) .. controls (245,1012) and (218,1028) .. (C00158);
\draw[lnk] (R00352) -- (C00010);
\draw[lnk] (R00352) .. controls (330,1018) and (365,1032) .. (C00002b);
\draw[lnk] (C00158) -- (R01325);
\draw[lnk] (R01325) -- (C00417);
\draw[lnk] (R01325) -- (C00001f);
\draw[lnk] (C00417) -- (R01900);
\draw[lnk] (C00001e) -- (R01900);
\draw[lnk] (R01900) -- (C00311);
\draw[lnk] (C00311) -- (R00479);
\draw[lnk] (R00479) -- (C00042);
\draw[lnk] (R00479) -- (C00048);
\draw[lnk] (C00048) -- (R00366);
\draw[lnk] (C00027) -- (R00366);
\draw[lnk] (C00014) -- (R00366);
\draw[lnk] (R00366) -- (C00037);
\draw[lnk] (R00366) -- (C00007);
\draw[lnk] (R00366) -- (C00001g);
\draw[lnk] (C00689) .. controls (965,392) and (1000,415) .. (R02737);
\draw[lnk] (C00015) -- (R02737);
\draw[lnk] (R02737) -- (C00668);
\draw[lnk] (R02737) -- (C00029);
\draw[lnk] (C00003a) -- (R00286);
\draw[lnk] (C00001b) -- (R00286);
\draw[lnk] (C00029) .. controls (1090,545) and (1040,558) .. (R00286);
\draw[lnk] (R00286) .. controls (900,581) and (820,590) .. (790,603) .. controls (775,608) and (760,615) .. (C00167);
\draw[lnk] (R00286) -- (C00004a);
\draw[lnk] (R00286) .. controls (1040,585) and (1058,597) .. (1065.3,605.8) .. controls (1075,618) and (1080,635) .. (C00080b);
\draw[lnk] (C00003b) -- (R07658);
\draw[lnk] (C00167) .. controls (770,712) and (800,730) .. (R07658);
\draw[lnk] (R07658) -- (C16155);
\draw[lnk] (R07658) -- (C00011a);
\draw[lnk] (R07658) -- (C00080c);
\draw[lnk] (R07658) -- (C00004b);
\end{tikzpicture}
\end{document}
